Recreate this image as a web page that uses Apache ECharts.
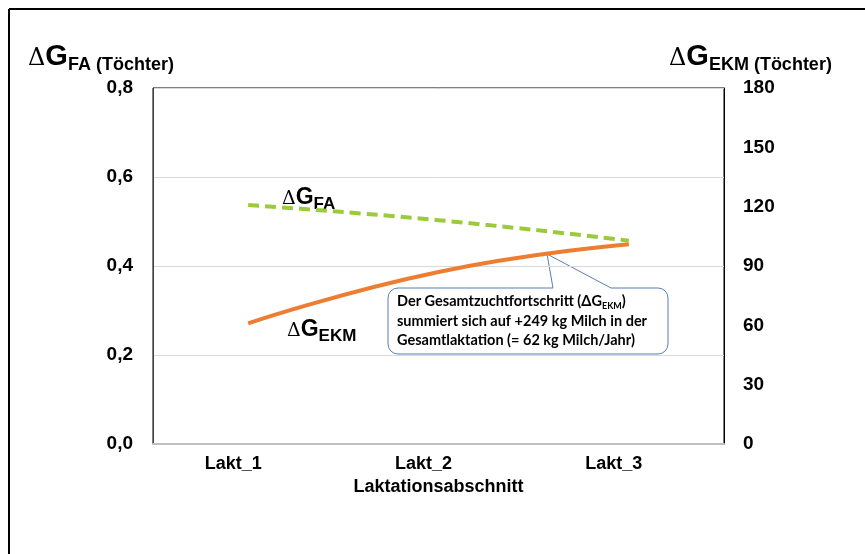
<!DOCTYPE html>
<html><head><meta charset="utf-8">
<script src="https://cdn.jsdelivr.net/npm/echarts@6/dist/echarts.min.js"></script>
<style>html,body{margin:0;padding:0;background:#fff}#c{width:865px;height:554px}</style>
</head><body><div id="c"></div>
<script>
const categories = ['Lakt_1', 'Lakt_2', 'Lakt_3'];
const faValues = [0.537, 0.503, 0.457];
const ekmValues = [61, 87, 101];
const leftTicks = [0, 0.2, 0.4, 0.6, 0.8];
const rightTicks = [0, 30, 60, 90, 120, 150, 180];

const chart = echarts.init(document.getElementById('c'), null, {renderer: 'canvas'});
const F = 'Liberation Sans, Arial, sans-serif';
const bigRich = {
  d: {fontFamily: 'DejaVu Serif, serif', fontSize: 24, color: '#000', verticalAlign: 'bottom'},
  g: {fontFamily: F, fontWeight: 'bold', fontSize: 29, color: '#000', verticalAlign: 'bottom'},
  s: {fontFamily: F, fontWeight: 'bold', fontSize: 18, color: '#000', verticalAlign: 'bottom', padding: [0,0,-3,0]},
  t: {fontFamily: F, fontWeight: 'bold', fontSize: 18, color: '#000', verticalAlign: 'bottom', padding: [0,0,-3,0]}
};
const inRich = {
  d: {fontFamily: 'DejaVu Serif, serif', fontSize: 19, color: '#000', verticalAlign: 'bottom'},
  g: {fontFamily: F, fontWeight: 'bold', fontSize: 23, color: '#000', verticalAlign: 'bottom'},
  s: {fontFamily: F, fontWeight: 'bold', fontSize: 17, color: '#000', verticalAlign: 'bottom', padding: [0,0,-4,0]}
};
const boxFont = 'Lato, Open Sans, sans-serif';
const option = {
  backgroundColor: '#fff',
  animation: false,
  grid: {left: 153, right: 141, top: 88, bottom: 110, show: true, borderColor: '#000', borderWidth: 1, backgroundColor: 'transparent'},
  xAxis: {
    type: 'category', data: categories, boundaryGap: true,
    axisTick: {show: false},
    axisLine: {show: true, lineStyle: {color: '#bfbfbf', width: 2}},
    axisLabel: {fontFamily: F, fontWeight: 'bold', fontSize: 18, color: '#000', margin: 11, padding: [0, 30, 0, 0]},
    name: 'Laktationsabschnitt', nameLocation: 'middle', nameGap: 32,
    nameTextStyle: {fontFamily: F, fontWeight: 'bold', fontSize: 18, color: '#000'}
  },
  yAxis: [
    {type: 'value', min: leftTicks[0], max: leftTicks[leftTicks.length-1], interval: 0.2,
     axisLine: {show: true, lineStyle: {color: '#404040', width: 1}}, axisTick: {show: false},
     splitLine: {show: true, lineStyle: {color: '#d9d9d9', width: 1}},
     axisLabel: {fontFamily: F, fontWeight: 'bold', fontSize: 19, color: '#000', margin: 20,
       formatter: v => v.toFixed(1).replace('.', ',')}},
    {type: 'value', min: rightTicks[0], max: rightTicks[rightTicks.length-1], interval: 30, position: 'right',
     axisLine: {show: true, lineStyle: {color: '#000', width: 1}}, axisTick: {show: false},
     splitLine: {show: false},
     axisLabel: {fontFamily: F, fontWeight: 'bold', fontSize: 19, color: '#000', margin: 19}}
  ],
  series: [
    {type: 'line', name: 'FA', yAxisIndex: 0, data: faValues, smooth: true, symbol: 'none',
     lineStyle: {color: '#9BCB3B', width: 4, type: [11, 6]}},
    {type: 'line', name: 'EKM', yAxisIndex: 1, data: ekmValues, smooth: true, symbol: 'none',
     lineStyle: {color: '#ED7D31', width: 4}}
  ],
  graphic: [
    {type: 'line', shape: {x1: 9, y1: 9, x2: 865, y2: 9}, style: {stroke: '#000', lineWidth: 2}},
    {type: 'line', shape: {x1: 9, y1: 9, x2: 9, y2: 554}, style: {stroke: '#000', lineWidth: 2}},
    {type: 'text', left: 28, top: 42, style: {text: '{d|Δ}{g|G}{s|FA}{t| (Töchter)}', rich: bigRich}},
    {type: 'text', left: 669, top: 42, style: {text: '{d|Δ}{g|G}{s|EKM}{t| (Töchter)}', rich: bigRich}},
    {type: 'text', left: 282, top: 186, style: {text: '{d|Δ}{g|G}{s|FA}', rich: inRich}},
    {type: 'text', left: 287, top: 318, style: {text: '{d|Δ}{g|G}{s|EKM}', rich: inRich}},
    {type: 'rect', shape: {x: 388, y: 288, width: 280, height: 66, r: 10}, style: {fill: '#fff', stroke: '#5B7DB8', lineWidth: 1}},
    {type: 'rect', shape: {x: 553, y: 286, width: 58, height: 4}, style: {fill: '#fff'}},
    {type: 'polyline', shape: {points: [[553, 288], [547, 254], [611, 288]]}, style: {stroke: '#5B7DB8', lineWidth: 1, fill: null}},
    {type: 'text', left: 397, top: 294, style: {
      text: '{a|Der Gesamtzuchtfortschritt (ΔG}{b|EKM}{a|)}\n{a|summiert sich auf +249 kg Milch in der}\n{a|Gesamtlaktation (= 62 kg Milch/Jahr)}',
      rich: {a: {fontFamily: boxFont, fontWeight: 'bold', fontSize: 14.5, color: '#000', lineHeight: 19.5, verticalAlign: 'bottom'},
             b: {fontFamily: boxFont, fontWeight: 'bold', fontSize: 9, color: '#000', lineHeight: 19.5, verticalAlign: 'bottom', padding: [0,0,-2,0]}}}}
  ]
};
chart.setOption(option);
</script></body></html>
